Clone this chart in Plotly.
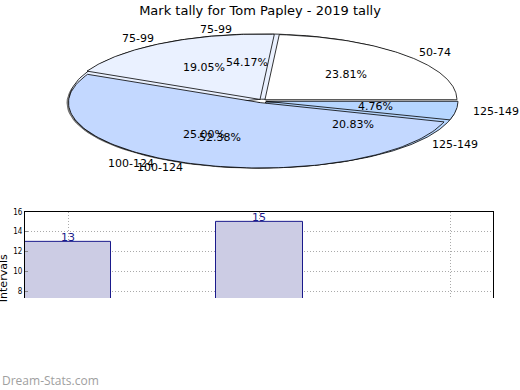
import math
import plotly.graph_objects as go

# ---------------- data ----------------
title_text = "Mark tally for Tom Papley - 2019 tally"
pie_a_labels = ["50-74", "75-99", "100-124", "125-149"]
pie_a_values = [23.81, 19.05, 52.38, 4.76]
pie_b_labels = ["75-99", "100-124", "125-149"]
pie_b_values = [54.17, 25.00, 20.83]
bar_x = [0, 1]
bar_values = [13, 15]
bar_grid_ticks = [0, 1, 2]
y_ticks = [8, 10, 12, 14, 16]
y_title = "Intervals"
watermark = "Dream-Stats.com"

# ---------------- styles ----------------
W, H = 520, 390
CX, CY, RX, RY = 262, 98, 192, 66
EXPLODE_X, EXPLODE_Y = 4.0, 1.8
slice_colors = {"50-74": "#ffffff", "75-99": "#eaf1ff",
                "100-124": "#c3d8ff", "125-149": "#b6d6ff"}
FONT = "DejaVu Sans"

fig = go.Figure()


def wedge(t0, t1, ox, oy, n=120):
    xs, ys = [CX + ox], [CY + oy]
    for i in range(n + 1):
        t = math.radians(t0 + (t1 - t0) * i / n)
        xs.append(CX + ox + RX * math.cos(t))
        ys.append(CY + oy - RY * math.sin(t))
    xs.append(CX + ox)
    ys.append(CY + oy)
    return xs, ys


# 3D shadow / depth, then a white base so explode gaps stay white
sx, sy = wedge(0, 360, -3, 2)
fig.add_trace(go.Scatter(x=sx, y=sy, mode="lines", fill="toself",
                         fillcolor="#8a8a8a", line=dict(color="#555", width=0.8),
                         xaxis="x2", yaxis="y2", hoverinfo="skip", showlegend=False))
wx, wy = wedge(0, 360, 0, 0)
fig.add_trace(go.Scatter(x=wx, y=wy, mode="lines", fill="toself",
                         fillcolor="white", line=dict(color="white", width=0),
                         xaxis="x2", yaxis="y2", hoverinfo="skip", showlegend=False))

annots = []


def draw_pie(labels, values):
    start = 0.0
    for lab, v in zip(labels, values):
        span = v / 100.0 * 360.0
        mid = start + span / 2
        c, s = math.cos(math.radians(mid)), math.sin(math.radians(mid))
        ox, oy = EXPLODE_X * c, -EXPLODE_Y * s
        xs, ys = wedge(start, start + span, ox, oy)
        fig.add_trace(go.Scatter(x=xs, y=ys, mode="lines", fill="toself",
                                 fillcolor=slice_colors[lab],
                                 line=dict(color="black", width=0.8),
                                 xaxis="x2", yaxis="y2", hoverinfo="skip",
                                 showlegend=False))
        annots.append(dict(x=CX + 0.6 * RX * c, y=CY - 0.6 * RY * s,
                           xref="x2", yref="y2", text=f"{v:.2f}%",
                           showarrow=False, xanchor="center", yanchor="middle",
                           font=dict(family=FONT, size=11, color="black")))
        annots.append(dict(x=CX + 1.1 * RX * c, y=CY - 1.1 * RY * s,
                           xref="x2", yref="y2", text=lab, showarrow=False,
                           xanchor="right" if c < 0 else "left", yanchor="middle",
                           font=dict(family=FONT, size=11, color="black")))
        start += span


draw_pie(pie_b_labels, pie_b_values)
draw_pie(pie_a_labels, pie_a_values)

# bar chart
fig.add_trace(go.Bar(x=bar_x, y=bar_values, width=0.45,
                     marker=dict(color="rgb(204,204,228)",
                                 line=dict(color="#1a1a8c", width=1)),
                     cliponaxis=False, xaxis="x", yaxis="y",
                     hoverinfo="skip", showlegend=False))
for bx, bv in zip(bar_x, bar_values):
    annots.append(dict(x=bx, y=bv, xref="x", yref="y", text=str(bv),
                       showarrow=False, xanchor="center", yanchor="bottom",
                       yshift=-4,
                       font=dict(family=FONT, size=11, color="#1a1a8c")))

annots.append(dict(x=3 / W, y=1 - 277 / H, xref="paper", yref="paper",
                   text=y_title, textangle=-90, showarrow=False,
                   xanchor="center", yanchor="middle",
                   font=dict(family=FONT, size=11, color="black")))
annots.append(dict(x=0, y=1 - 380 / H, xref="paper", yref="paper",
                   text=watermark, showarrow=False, xanchor="left",
                   yanchor="middle",
                   font=dict(family="Open Sans", size=12, color="#a0a0a0")))

GRID_DASH = "1px,2px"
fig.update_layout(
    width=W, height=H,
    margin=dict(l=0, r=0, t=0, b=0),
    paper_bgcolor="white", plot_bgcolor="rgba(0,0,0,0)",
    title=dict(text=title_text, x=0.5, xanchor="center", y=1 - 10 / H,
               yanchor="middle", font=dict(family=FONT, size=13, color="black")),
    annotations=annots,
    bargap=0,
    xaxis=dict(domain=[25 / W, 493 / W], range=[-0.225, 2.22],
               tickvals=bar_grid_ticks, showticklabels=False, ticks="",
               showgrid=True, gridcolor="#aaaaaa", griddash=GRID_DASH, gridwidth=1,
               showline=True, linecolor="black", linewidth=1, side="top",
               mirror=False, zeroline=False, anchor="y", fixedrange=True),
    yaxis=dict(domain=[1 - 297 / H, 1 - 210 / H], range=[7.3, 16],
               tickvals=y_ticks, ticks="inside", ticklen=3, tickcolor="#888",
               tickfont=dict(family="DejaVu Sans Condensed, DejaVu Sans", size=8,
                             color="black"),
               showgrid=True, gridcolor="#aaaaaa", griddash=GRID_DASH, gridwidth=1,
               showline=True, linecolor="black", linewidth=1, mirror=True,
               zeroline=False, anchor="x", fixedrange=True),
    xaxis2=dict(domain=[0, 1], range=[0, W], visible=False, anchor="y2",
                fixedrange=True),
    yaxis2=dict(domain=[0, 1], range=[H, 0], visible=False, anchor="x2",
                fixedrange=True),
)

fig.write_html("out.html", config={"displayModeBar": False},
               post_script="document.body.style.margin='0px';"
                           "document.body.style.overflow='hidden';")
